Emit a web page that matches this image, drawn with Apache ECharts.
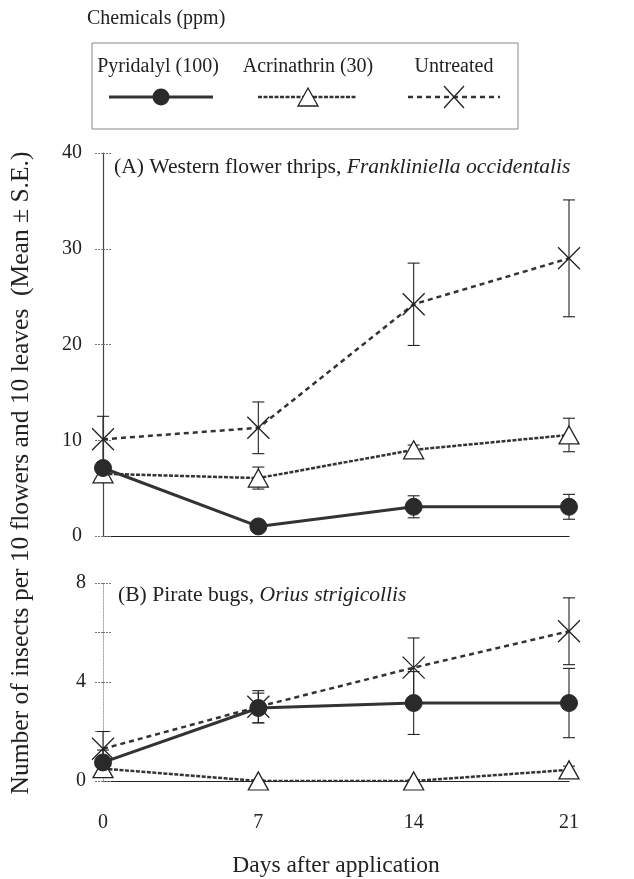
<!DOCTYPE html>
<html>
<head>
<meta charset="utf-8">
<script src="https://cdn.jsdelivr.net/npm/echarts@6/dist/echarts.min.js"></script>
<style>
  html, body { margin: 0; padding: 0; background: #fff; }
  #chart { width: 634px; height: 879px; }
</style>
</head>
<body>
<div id="chart"></div>
<script>
// days after application
const days = [0, 7, 14, 21];
const seriesNames = ["Pyridalyl (100)", "Acrinathrin (30)", "Untreated"];

// (A) Western flower thrips
const pyrA = [7.1, 1.0, 3.05, 3.05];
const pyrAse = [0.6, 0.3, 1.15, 1.3];
const acrA = [6.5, 6.05, 9.0, 10.55];
const acrAse = [0.9, 1.15, 0.5, 1.75];
const untA = [10.1, 11.3, 24.2, 29.0];
const untAse = [2.4, 2.7, 4.3, 6.1];

// (B) Pirate bugs
const pyrB = [0.75, 2.95, 3.15, 3.15];
const pyrBse = [0.5, 0.6, 1.27, 1.4];
const acrB = [0.5, 0.0, 0.0, 0.45];
const acrBse = [0.15, 0.05, 0.05, 0.15];
const untB = [1.3, 3.0, 4.58, 6.05];
const untBse = [0.7, 0.65, 1.2, 1.35];

const yTicksA = [0, 10, 20, 30, 40];
const yTicksB = [0, 4, 8];

const FONT = "'Liberation Serif', 'Times New Roman', serif";
const INK = "#222";
const xPath = "path://M0,0L10,10M10,0L0,10";

function pts(vals) {
  return vals.map((v, i) => [days[i], v]);
}
function bars(vals, se) {
  return vals.map((v, i) => [days[i], v - se[i], v + se[i]]);
}

function errorSeries(data, xi, yi) {
  return {
    type: "custom",
    xAxisIndex: xi,
    yAxisIndex: yi,
    z: 1,
    silent: true,
    data: data,
    renderItem: function (params, api) {
      const lo = api.coord([api.value(0), api.value(1)]);
      const hi = api.coord([api.value(0), api.value(2)]);
      const w = 6;
      const st = { stroke: INK, lineWidth: 1.1 };
      return {
        type: "group",
        children: [
          { type: "line", shape: { x1: lo[0], y1: lo[1], x2: hi[0], y2: hi[1] }, style: st },
          { type: "line", shape: { x1: lo[0] - w, y1: lo[1], x2: lo[0] + w, y2: lo[1] }, style: st },
          { type: "line", shape: { x1: hi[0] - w, y1: hi[1], x2: hi[0] + w, y2: hi[1] }, style: st },
        ],
      };
    },
  };
}

function pyrLine(data, xi, yi) {
  return {
    name: seriesNames[0], type: "line", xAxisIndex: xi, yAxisIndex: yi, z: 3,
    data: data, symbol: "circle", symbolSize: 17,
    itemStyle: { color: "#2a2a2a", borderColor: "#2a2a2a" },
    lineStyle: { color: "#333", width: 3, type: "solid" },
  };
}
function acrLine(data, xi, yi) {
  return {
    name: seriesNames[1], type: "line", xAxisIndex: xi, yAxisIndex: yi, z: 2,
    data: data, symbol: "triangle", symbolSize: [20, 18],
    itemStyle: { color: "#fff", borderColor: INK, borderWidth: 1.3 },
    lineStyle: { color: "#333", width: 2.5, type: [4, 1.5] },
  };
}
function untLine(data, xi, yi) {
  return {
    name: seriesNames[2], type: "line", xAxisIndex: xi, yAxisIndex: yi, z: 2,
    data: data, symbol: xPath, symbolSize: 22, symbolKeepAspect: true,
    itemStyle: { color: "none", borderColor: INK, borderWidth: 1.3 },
    lineStyle: { color: "#333", width: 2.5, type: [5, 4] },
  };
}

const chart = echarts.init(document.getElementById("chart"));

const option = {
  animation: false,
  textStyle: { fontFamily: FONT },
  grid: [
    { left: 103, right: 65, top: 153, height: 383 },
    { left: 103, right: 65, top: 583, height: 204 },
  ],
  xAxis: [
    {
      gridIndex: 0, type: "value", min: 0, max: 21, interval: 7,
      axisLine: { show: true, lineStyle: { color: INK, width: 1.2 } },
      axisTick: { show: false }, axisLabel: { show: false }, splitLine: { show: false },
    },
    {
      gridIndex: 1, type: "value", min: 0, max: 21, interval: 7,
      axisLine: { show: true, lineStyle: { color: INK, width: 1.2 } },
      axisTick: { show: false }, splitLine: { show: false },
      axisLabel: { color: INK, fontSize: 20, fontFamily: FONT, margin: 32 },
      name: "Days after application", nameLocation: "middle", nameGap: 73,
      nameTextStyle: { color: INK, fontSize: 23.5, fontFamily: FONT },
    },
  ],
  yAxis: [
    {
      gridIndex: 0, type: "value", min: yTicksA[0], max: yTicksA[yTicksA.length - 1], interval: 10,
      axisLine: { show: true, lineStyle: { color: "#444", width: 1.2 } },
      axisTick: { show: true, length: 9, lineStyle: { color: "#777", type: [2, 1] } },
      axisLabel: { color: INK, fontSize: 20, fontFamily: FONT, margin: 21 },
      splitLine: { show: false },
    },
    {
      gridIndex: 0, type: "value", position: "left", offset: 0,
      min: yTicksA[0], max: yTicksA[yTicksA.length - 1], interval: 10,
      axisLine: { show: false },
      axisTick: { show: true, inside: true, length: 9, lineStyle: { color: "#777", type: [2, 1] } },
      axisLabel: { show: false }, splitLine: { show: false },
    },
    {
      gridIndex: 1, type: "value", min: yTicksB[0], max: yTicksB[yTicksB.length - 1], interval: 2,
      axisLine: { show: true, lineStyle: { color: "#aaa", width: 1, type: [2, 1] } },
      axisTick: { show: true, length: 9, lineStyle: { color: "#777", type: [2, 1] } },
      axisLabel: {
        color: INK, fontSize: 20, fontFamily: FONT, margin: 17,
        formatter: (v) => (yTicksB.indexOf(v) >= 0 ? String(v) : ""),
      },
      splitLine: { show: false },
    },
    {
      gridIndex: 1, type: "value", position: "left", offset: 0,
      min: yTicksB[0], max: yTicksB[yTicksB.length - 1], interval: 2,
      axisLine: { show: false },
      axisTick: { show: true, inside: true, length: 9, lineStyle: { color: "#777", type: [2, 1] } },
      axisLabel: { show: false }, splitLine: { show: false },
    },
  ],
  graphic: [
    {
      type: "text", left: 87, top: 9,
      style: { text: "Chemicals (ppm)", font: "20px " + FONT, fill: INK },
    },
    {
      type: "rect", shape: { x: 92, y: 43, width: 426, height: 86 },
      style: { fill: "none", stroke: "#888", lineWidth: 1 },
    },
    // legend entries
    { type: "text", x: 158, y: 67, style: { text: seriesNames[0], font: "20px " + FONT, fill: INK, align: "center", verticalAlign: "middle" } },
    { type: "text", x: 308, y: 67, style: { text: seriesNames[1], font: "20px " + FONT, fill: INK, align: "center", verticalAlign: "middle" } },
    { type: "text", x: 454, y: 67, style: { text: seriesNames[2], font: "20px " + FONT, fill: INK, align: "center", verticalAlign: "middle" } },
    { type: "line", shape: { x1: 109, y1: 97, x2: 213, y2: 97 }, style: { stroke: "#333", lineWidth: 3 } },
    { type: "circle", shape: { cx: 161, cy: 97, r: 8.5 }, style: { fill: "#2a2a2a" } },
    { type: "line", shape: { x1: 258, y1: 97, x2: 357, y2: 97 }, style: { stroke: "#333", lineWidth: 2.5, lineDash: [4, 1.5] } },
    { type: "polygon", shape: { points: [[308, 88], [318, 106], [298, 106]] }, style: { fill: "#fff", stroke: INK, lineWidth: 1.3 } },
    { type: "line", shape: { x1: 408, y1: 97, x2: 500, y2: 97 }, style: { stroke: "#333", lineWidth: 2.5, lineDash: [5, 4] } },
    { type: "line", shape: { x1: 444, y1: 86, x2: 464, y2: 108 }, style: { stroke: INK, lineWidth: 1.3 } },
    { type: "line", shape: { x1: 464, y1: 86, x2: 444, y2: 108 }, style: { stroke: INK, lineWidth: 1.3 } },
    // panel titles
    {
      type: "text", left: 114, top: 156,
      style: {
        text: "(A) Western flower thrips, {i|Frankliniella occidentalis}",
        font: "21.6px " + FONT, fill: INK,
        rich: { i: { fontStyle: "italic", fontSize: 21.6, fontFamily: FONT, fill: INK } },
      },
    },
    {
      type: "text", left: 118, top: 584,
      style: {
        text: "(B) Pirate bugs, {i|Orius strigicollis}",
        font: "21.6px " + FONT, fill: INK,
        rich: { i: { fontStyle: "italic", fontSize: 21.6, fontFamily: FONT, fill: INK } },
      },
    },
    // shared y-axis title
    {
      type: "text", x: 21, y: 473, rotation: Math.PI / 2,
      style: {
        text: "Number of insects per 10 flowers and 10 leaves  (Mean \u00b1 S.E.)",
        font: "25.5px " + FONT, fill: INK, align: "center", verticalAlign: "middle",
      },
    },
  ],
  series: [
    errorSeries(bars(pyrA, pyrAse), 0, 0),
    errorSeries(bars(acrA, acrAse), 0, 0),
    errorSeries(bars(untA, untAse), 0, 0),
    pyrLine(pts(pyrA), 0, 0),
    acrLine(pts(acrA), 0, 0),
    untLine(pts(untA), 0, 0),
    errorSeries(bars(pyrB, pyrBse), 1, 2),
    errorSeries(bars(acrB, acrBse), 1, 2),
    errorSeries(bars(untB, untBse), 1, 2),
    pyrLine(pts(pyrB), 1, 2),
    acrLine(pts(acrB), 1, 2),
    untLine(pts(untB), 1, 2),
  ],
};

chart.setOption(option);
</script>
</body>
</html>
